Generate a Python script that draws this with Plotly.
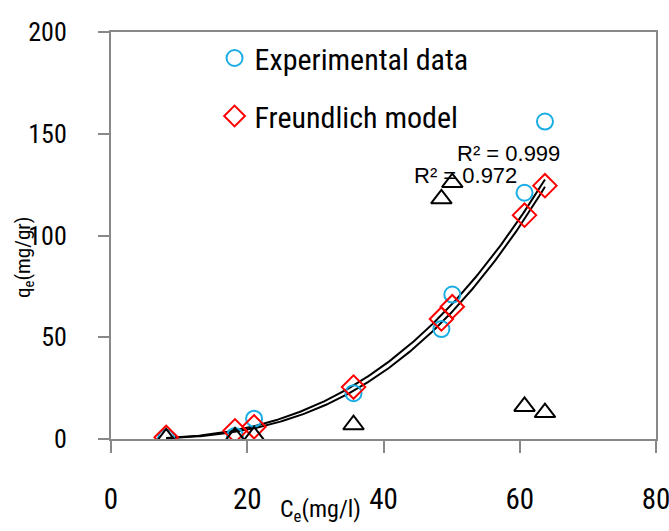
import numpy as np
import plotly.graph_objects as go

# Data
ce = [8.1, 18.2, 21.0, 35.6, 48.5, 50.1, 60.7, 63.7]
qe_exp = [0.6, 1.5, 10.0, 22.5, 54.0, 71.0, 121.0, 156.0]
qe_freundlich = [0.8, 4.0, 6.0, 25.5, 59.0, 65.0, 110.0, 124.5]
qe_other = [0.5, 1.0, 1.5, 7.0, 118.0, 126.0, 16.0, 13.0]
r2_labels = ["R² = 0.999", "R² = 0.972"]
trend1_x = [20.0, 63.7]
trend1_y = [4.6, 124.0]
trend2_x = [20.0, 63.7]
trend2_y = [5.5, 127.5]
x_ticks = [0, 20, 40, 60, 80]
y_ticks = [0, 50, 100, 150, 200]

FONT = "Roboto Condensed, DejaVu Sans Condensed, sans-serif"


def power_fit(x, y):
    x = np.asarray(x, float)
    y = np.asarray(y, float)
    b, lna = np.polyfit(np.log(x), np.log(y), 1)
    return np.exp(lna), b


xs = np.linspace(min(ce), max(ce), 200)
a1, b1 = power_fit(trend1_x, trend1_y)
a2, b2 = power_fit(trend2_x, trend2_y)

fig = go.Figure()
fig.add_trace(go.Scatter(x=xs, y=a1 * xs ** b1, mode="lines", line=dict(color="black", width=2),
                         showlegend=False, hoverinfo="skip"))
fig.add_trace(go.Scatter(x=xs, y=a2 * xs ** b2, mode="lines", line=dict(color="black", width=2),
                         showlegend=False, hoverinfo="skip"))
fig.add_trace(go.Scatter(x=ce, y=qe_exp, mode="markers", name="Experimental data", legendgroup="g1",
                         marker=dict(symbol="circle-open", size=16, color="#1AADE4", line=dict(width=2))))
fig.add_trace(go.Scatter(x=ce, y=qe_freundlich, mode="markers", name="Freundlich model", legendgroup="g2",
                         marker=dict(symbol="diamond-open", size=18, color="#FF0000", line=dict(width=2))))
fig.add_trace(go.Scatter(x=ce, y=qe_other, mode="markers", name="",
                         marker=dict(symbol="triangle-up-open", size=18, color="black", line=dict(width=2)),
                         showlegend=False))

fig.add_annotation(x=58.4, y=140.5, text=r2_labels[0], showarrow=False,
                   font=dict(family="Liberation Sans, Arial", size=22, color="black"))
fig.add_annotation(x=52.1, y=129.7, text=r2_labels[1], showarrow=False,
                   font=dict(family="Liberation Sans, Arial", size=22, color="black"))

fig.add_annotation(x=(320 - 111) / 545, y=(439 - 510) / 407, xref="paper", yref="paper",
                   xanchor="center", yanchor="middle",
                   text="C<sub>e</sub>(mg/l)", showarrow=False,
                   font=dict(family=FONT, size=24, color="black"))
fig.add_annotation(x=(24 - 111) / 545, y=(439 - 258) / 407, xref="paper", yref="paper",
                   xanchor="center", yanchor="middle",
                   text="q<sub>e</sub>(mg/gr)", showarrow=False, textangle=-90,
                   font=dict(family=FONT, size=21, color="black"))

fig.update_layout(
    width=669, height=531,
    margin=dict(l=111, r=13, t=32, b=92, autoexpand=False),
    paper_bgcolor="white", plot_bgcolor="white",
    font=dict(family=FONT, color="black"),
    showlegend=True,
    legend=dict(x=0.19, y=1.0, xanchor="left", yanchor="top", bgcolor="rgba(0,0,0,0)",
                font=dict(family=FONT, size=30, color="black"), itemsizing="trace",
                tracegroupgap=16),
    xaxis=dict(range=[0, 80], tickvals=x_ticks, showgrid=False, zeroline=False, automargin=False,
               showline=True, linecolor="#888888", linewidth=2, mirror=True,
               ticks="outside", ticklen=12, tickcolor="#888888", tickwidth=2,
               ticklabeloverflow="allow",
               tickfont=dict(family=FONT, size=29, color="black"), ticklabelstandoff=21),
    yaxis=dict(range=[0, 200], tickvals=y_ticks, showgrid=False, zeroline=False, automargin=False,
               showline=True, linecolor="#888888", linewidth=2, mirror=True,
               ticks="outside", ticklen=11, tickcolor="#888888", tickwidth=2,
               ticklabeloverflow="allow",
               tickfont=dict(family=FONT, size=26, color="black"), ticklabelstandoff=26),
)

fig.write_html("out.html")
